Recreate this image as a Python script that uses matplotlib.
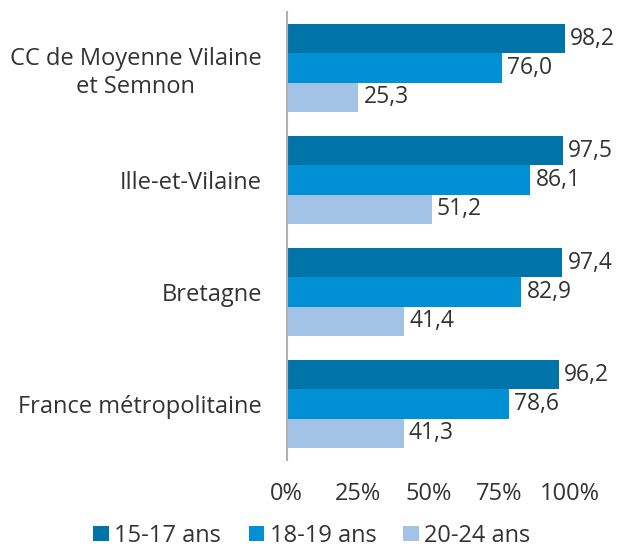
import numpy as np
import matplotlib.pyplot as plt
from matplotlib.ticker import FuncFormatter

# Data
territoires = ['CC de Moyenne Vilaine\net Semnon', 'Ille-et-Vilaine', 'Bretagne', 'France métropolitaine']
series = ['15-17 ans', '18-19 ans', '20-24 ans']
vals_15_17 = [98.2, 97.5, 97.4, 96.2]
vals_18_19 = [76.0, 86.1, 82.9, 78.6]
vals_20_24 = [25.3, 51.2, 41.4, 41.3]
colors = ['#0073a8', '#0090d3', '#a3c3e6']

plt.rcParams['font.family'] = ['Open Sans', 'DejaVu Sans']
text_col = '#333333'
fs = 17

fig = plt.figure(figsize=(6.18, 5.48), dpi=100)
ax = fig.add_axes([0.464, 0.1606, 0.458, 0.8174])

y = np.arange(len(territoires))
h = 0.26
for k, (vals, col, lab) in enumerate(zip([vals_15_17, vals_18_19, vals_20_24], colors, series)):
    pos = y + (k - 1) * h
    ax.barh(pos, vals, height=h, color=col, label=lab)
    for p, v in zip(pos, vals):
        ax.text(v + 1.8, p, f'{v:.1f}'.replace('.', ','), va='center', ha='left',
                fontsize=16.5, color=text_col)

ax.set_xlim(0, 100)
ax.set_ylim(3.5, -0.5)
ax.set_yticks(y)
ax.set_yticklabels(territoires, fontsize=fs, color=text_col, multialignment='center')
ax.set_xticks([0, 25, 50, 75, 100])
ax.xaxis.set_major_formatter(FuncFormatter(lambda v, _: f'{v:.0f}%'))
ax.tick_params(axis='x', length=0, labelsize=fs, labelcolor=text_col, pad=16)
ax.tick_params(axis='y', length=0, pad=18)
for s in ['top', 'right', 'bottom']:
    ax.spines[s].set_visible(False)
ax.spines['left'].set_color('#b0b0b0')
ax.spines['left'].set_linewidth(1.5)

fig.legend(loc='center', bbox_to_anchor=(0.505, 0.022), ncol=3, frameon=False,
           fontsize=fs, handlelength=0.64, handleheight=0.64, handletextpad=0.25,
           columnspacing=1.15, labelcolor=text_col, borderaxespad=0, borderpad=0)

fig.savefig('out.png', dpi=100)
